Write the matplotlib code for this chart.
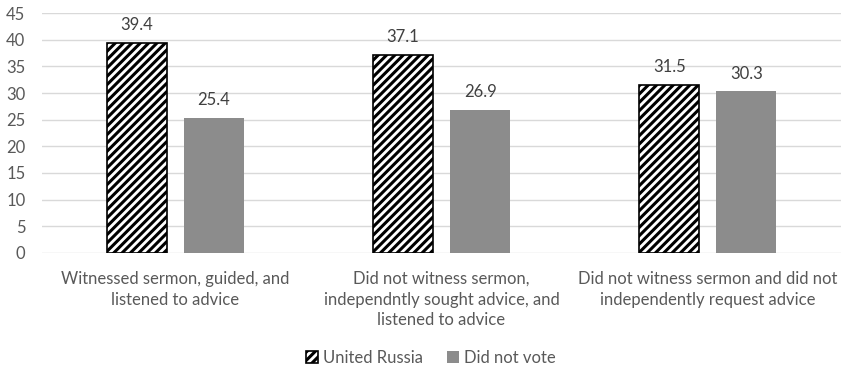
import numpy as np
import matplotlib.pyplot as plt

plt.rcParams['font.family'] = ['Lato', 'DejaVu Sans']
plt.rcParams['hatch.linewidth'] = 2.2

categories = ['Witnessed sermon, guided, and\nlistened to advice',
              'Did not witness sermon,\nindependntly sought advice, and\nlistened to advice',
              'Did not witness sermon and did not\nindependently request advice']
united_russia = [39.4, 37.1, 31.5]
did_not_vote = [25.4, 26.9, 30.3]

x = np.arange(len(categories))
w = 0.225
gap = 0.065

fig = plt.figure(figsize=(8.41, 3.72), dpi=100)
ax = fig.add_axes([0.05, 0.32, 0.95, 0.645])

b1 = ax.bar(x - (w + gap) / 2, united_russia, w, color='white', edgecolor='black',
            hatch='////', linewidth=1.2, label='United Russia', zorder=3)
b2 = ax.bar(x + (w + gap) / 2, did_not_vote, w, color='#8c8c8c', label='Did not vote', zorder=3)

for bars, vals in [(b1, united_russia), (b2, did_not_vote)]:
    for r, v in zip(bars, vals):
        ax.annotate(f'{v}', (r.get_x() + r.get_width() / 2, v), xytext=(0, 7),
                    textcoords='offset points', ha='center', va='bottom',
                    fontsize=12, color='#404040')

ax.set_xlim(-0.5, 2.5)
ax.set_ylim(0, 45)
ax.set_yticks(range(0, 50, 5))
ax.set_xticks(x)
ax.set_xticklabels(categories, fontsize=12, color='#595959', linespacing=1.35)
ax.tick_params(axis='y', labelsize=12, colors='#595959', length=0, pad=12)
ax.tick_params(axis='x', length=0, pad=13)
ax.grid(axis='y', color='#d9d9d9', linewidth=1, zorder=0)
for s in ax.spines.values():
    s.set_visible(False)

fig.legend(loc='center', bbox_to_anchor=(0.5125, 0.038), ncol=2, frameon=False,
           fontsize=12, handlelength=0.75, handleheight=0.75, handletextpad=0.3,
           columnspacing=1.4, labelcolor='#595959')

fig.savefig('out.png', dpi=100)
